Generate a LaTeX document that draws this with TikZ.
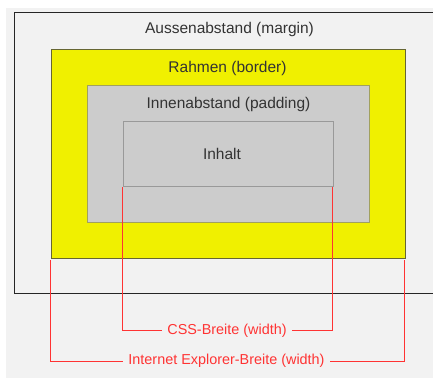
\documentclass[tikz,border=0pt]{standalone}
\usepackage{fontspec}
\setmainfont{Liberation Sans}
\definecolor{bgc}{HTML}{F2F2F2}
\definecolor{yel}{HTML}{F0F000}
\definecolor{yelline}{HTML}{666633}
\definecolor{padline}{HTML}{A0A060}
\definecolor{padc}{HTML}{CCCCCC}
\definecolor{conline}{HTML}{999999}
\definecolor{redc}{HTML}{FF3333}
\definecolor{txt}{HTML}{333333}
\tikzset{
  lbl/.style={font=\fontsize{15.5}{18}\selectfont, text=txt, inner sep=0pt},
  redlbl/.style={font=\fontsize{14.4}{17}\selectfont, text=redc, fill=bgc, inner ysep=2pt, inner xsep=5pt},
  dimline/.style={draw=redc, line width=1pt},
}
\begin{document}
\begin{tikzpicture}[x=1pt,y=-1pt]
\useasboundingbox (0,0) rectangle (433,378);
\fill[white] (0,0) rectangle (433,378);
\fill[bgc] (6,8) rectangle (433,378);
% outer margin box (open at right)
\draw[line width=1pt, draw=black!85] (440,12.5) -- (14.5,12.5) -- (14.5,293.5) -- (440,293.5);
% border box
\node[draw=yelline, fill=yel, line width=1pt, minimum width=354pt, minimum height=209pt, inner sep=0pt, anchor=north west] (border) at (50.5,48.5) {};
% padding box
\node[draw=padline, fill=padc, line width=1pt, minimum width=282pt, minimum height=137pt, inner sep=0pt, anchor=north west] (padding) at (86.5,84.5) {};
% content box
\node[draw=conline, fill=padc, line width=1pt, minimum width=210pt, minimum height=65pt, inner sep=0pt, anchor=north west] (content) at (122.5,120.5) {};
% labels
\node[lbl] (lmargin) at (229.5,29.5) {Aussenabstand (margin)};
\node[lbl] (lborder) at (227.5,68.5) {Rahmen (border)};
\node[lbl] (lpadding) at (228.5,104.5) {Innenabstand (padding)};
\node[lbl] (lcontent) at (222,154) {Inhalt};
% dimension lines
\coordinate (c1) at (122.5,187);
\coordinate (c2) at (332.5,187);
\coordinate (c1b) at (122.5,330.5);
\coordinate (c2b) at (332.5,330.5);
\draw[dimline] (c1) -- (c1b) -- (c2b) -- (c2);
\node[redlbl] (lcss) at (227,330.5) {CSS-Breite (width)};
\coordinate (i1) at (50.5,260);
\coordinate (i2) at (404.5,260);
\coordinate (i1b) at (50.5,361);
\coordinate (i2b) at (404.5,361);
\draw[dimline] (i1) -- (i1b) -- (i2b) -- (i2);
\node[redlbl] (lie) at (226.5,361) {Internet Explorer-Breite (width)};
\end{tikzpicture}
\end{document}
